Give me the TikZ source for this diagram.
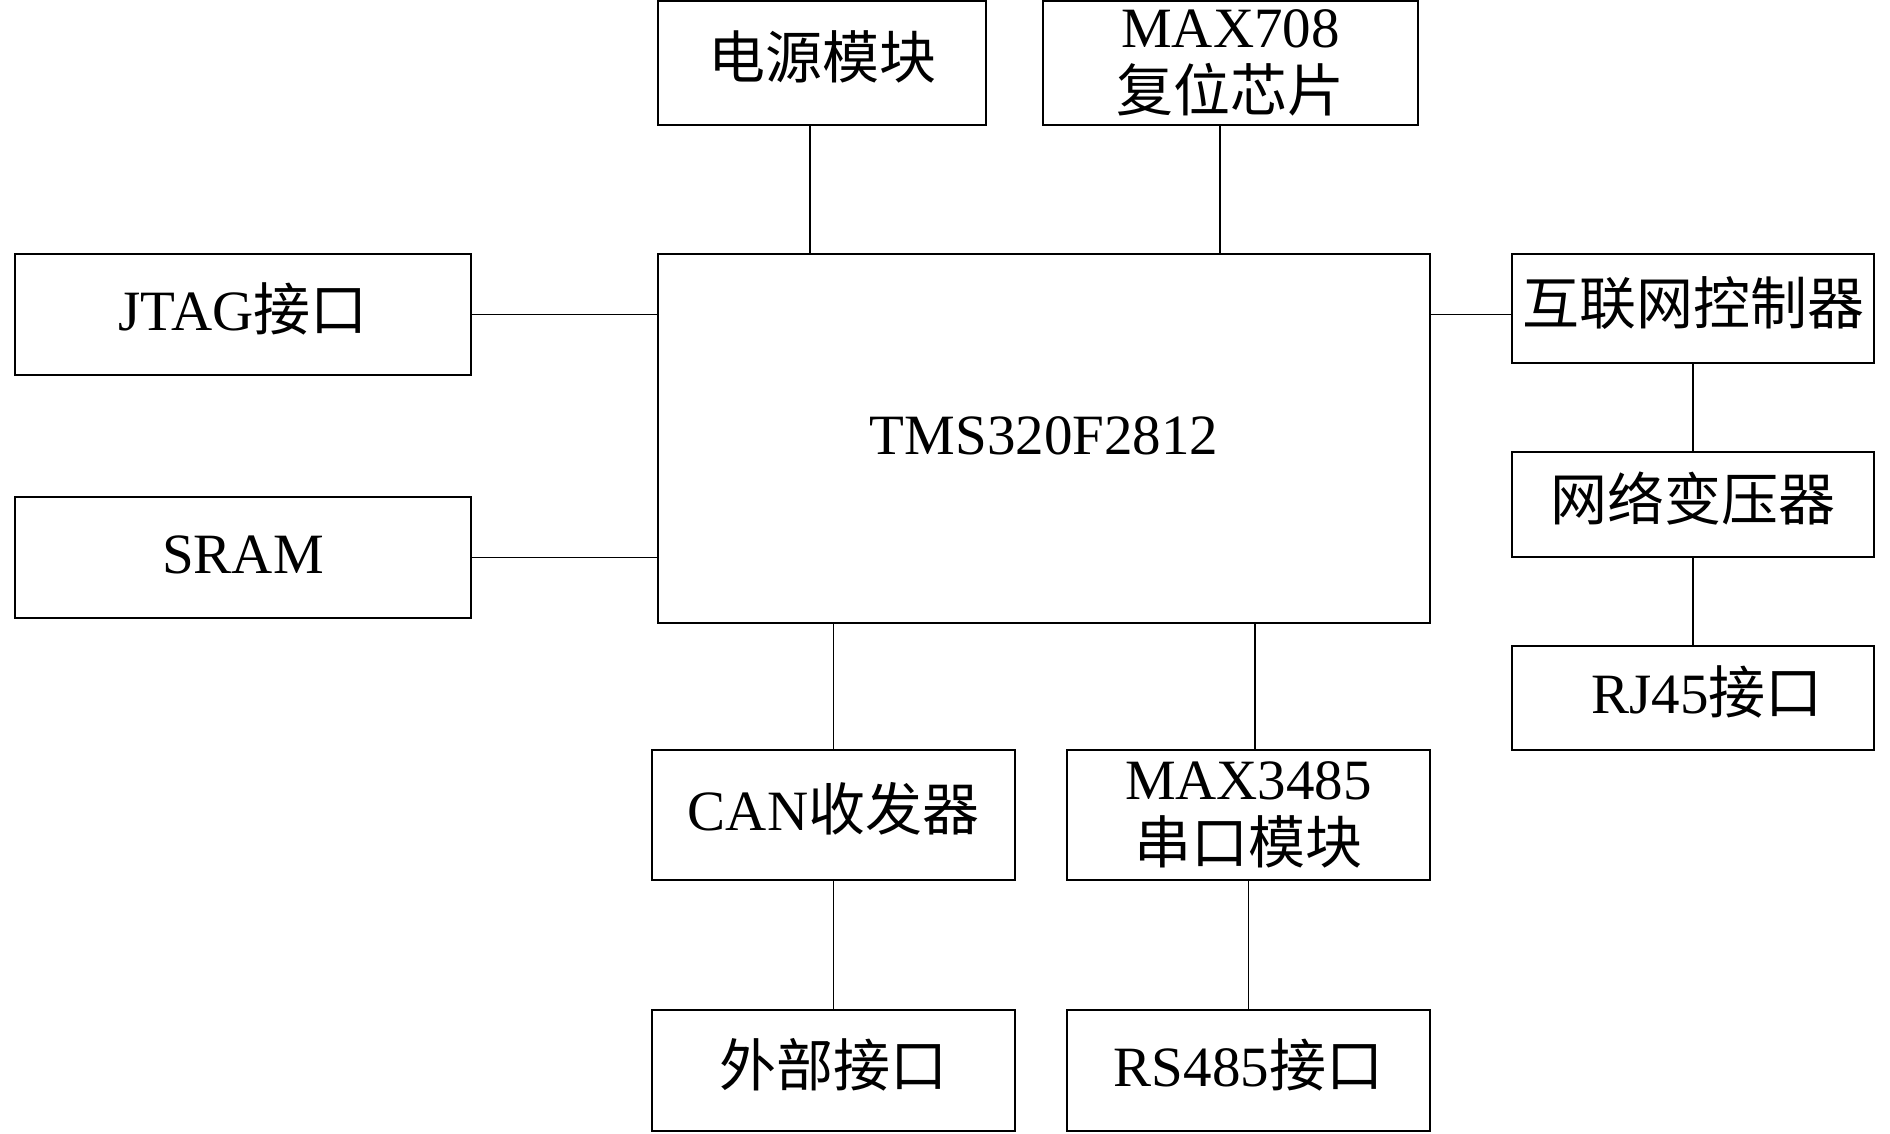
\documentclass[tikz,border=0pt]{standalone}
\usepackage{fontspec}
\setmainfont{Liberation Serif}
\newfontfamily\cjk{Noto Sans CJK SC}
\def\px{0.5pt}
\tikzset{
  blk/.style={draw, line width=1pt, inner sep=0pt, outer sep=0pt, align=center,
    font=\fontsize{28.5}{32}\selectfont},
  one/.style={blk, text height=20pt, text depth=4.5pt},
  wire/.style={line width=0.8pt},
}
\begin{document}
\begin{tikzpicture}[x=0.5pt,y=-0.5pt]
\fill[white] (0,0) rectangle (1890,1134);
\useasboundingbox (0,0) rectangle (1890,1134);
% top
\node[one, minimum width=328*\px, minimum height=124*\px] (pwr) at (822,63) {{\cjk 电源模块}};
\node[blk, minimum width=375*\px, minimum height=124*\px] (rst) at (1230.5,63) {MAX708\\{\cjk 复位芯片}};
% left
\node[one, minimum width=456*\px, minimum height=121*\px] (jtag) at (243,314.5) {JTAG{\cjk 接口}};
\node[one, minimum width=456*\px, minimum height=121*\px] (sram) at (243,557.5) {SRAM};
% centre
\node[one, minimum width=772*\px, minimum height=369*\px] (tms) at (1044,438.5) {TMS320F2812};
% right
\node[one, minimum width=362*\px, minimum height=109*\px] (net) at (1693,308.5) {{\cjk 互联网控制器}};
\node[one, minimum width=362*\px, minimum height=105*\px] (trf) at (1693,504.5) {{\cjk 网络变压器}};
\node[one, minimum width=362*\px, minimum height=104*\px] (rj) at (1693,698) {\hspace*{14pt}RJ45{\cjk 接口}};
% bottom
\node[one, minimum width=363*\px, minimum height=130*\px] (can) at (833.5,815) {CAN{\cjk 收发器}};
\node[blk, minimum width=363*\px, minimum height=130*\px] (mx) at (1248.5,815) {MAX3485\\{\cjk 串口模块}};
\node[one, minimum width=363*\px, minimum height=121*\px] (ext) at (833.5,1070.5) {{\cjk 外部接口}};
\node[one, minimum width=363*\px, minimum height=121*\px] (rs) at (1248.5,1070.5) {RS485{\cjk 接口}};
% connectors
\draw[wire] ([xshift=-12*\px]pwr.south) -- ([xshift=-12*\px]pwr.south |- tms.north);
\draw[wire] ([xshift=-10.5*\px]rst.south) -- ([xshift=-10.5*\px]rst.south |- tms.north);
\draw[wire] (jtag.east) -- (jtag.east -| tms.west);
\draw[wire] (sram.east) -- (sram.east -| tms.west);
\draw[wire] (tms.east |- jtag.east) -- (net.west |- jtag.east);
\draw[wire] (net.south) -- (trf.north);
\draw[wire] (trf.south) -- (rj.north);
\draw[wire] (can.north) -- (can.north |- tms.south);
\draw[wire] ([xshift=6.5*\px]mx.north) -- ([xshift=6.5*\px]mx.north |- tms.south);
\draw[wire] (can.south) -- (ext.north);
\draw[wire] (mx.south) -- (rs.north);
\end{tikzpicture}
\end{document}
